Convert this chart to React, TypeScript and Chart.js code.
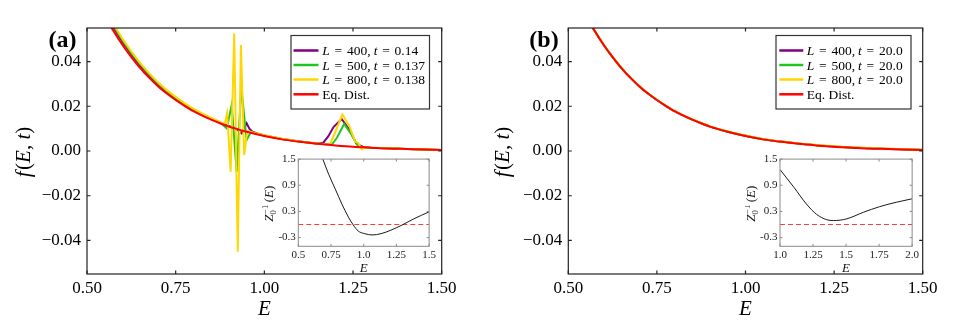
import React, { useEffect, useRef } from 'react';
import { Chart, registerables } from 'chart.js';

Chart.register(...registerables);

const SERIF = '"Liberation Serif", "Times New Roman", serif';

// ---------- Panel (a) data ----------
const eqE = [0.55, 0.575, 0.6, 0.625, 0.65, 0.675, 0.7, 0.725, 0.75, 0.775, 0.8, 0.825, 0.85, 0.875, 0.9, 0.95, 1.0, 1.05, 1.1, 1.15, 1.2, 1.25, 1.3, 1.35, 1.4, 1.45, 1.5];
const eqF = [0.0605, 0.0535, 0.0474, 0.042, 0.0371, 0.0328, 0.029, 0.0257, 0.0228, 0.0202, 0.0178, 0.0158, 0.014, 0.0124, 0.0109, 0.0086, 0.0067, 0.0052, 0.0041, 0.0032, 0.0025, 0.0019, 0.0015, 0.0011, 0.0009, 0.0007, 0.0005];

const aPurpleE = [0.55, 0.575, 0.6, 0.625, 0.65, 0.675, 0.7, 0.725, 0.75, 0.775, 0.8, 0.825, 0.85, 0.875, 0.9, 0.92, 0.936, 0.95, 0.958, 0.966, 0.98, 1.0, 1.05, 1.1, 1.15, 1.166, 1.18, 1.195, 1.218, 1.24, 1.26, 1.28, 1.3, 1.35, 1.4, 1.45, 1.5];
const aPurpleF = [0.0623, 0.0551, 0.0488, 0.0433, 0.0382, 0.0338, 0.0299, 0.0265, 0.0235, 0.0208, 0.0183, 0.0163, 0.0144, 0.0127, 0.0112, 0.0101, 0.0079, 0.0124, 0.01, 0.0086, 0.0078, 0.0069, 0.0054, 0.0042, 0.0033, 0.0037, 0.0065, 0.0107, 0.0143, 0.0095, 0.0032, 0.0017, 0.0015, 0.0012, 0.0009, 0.0007, 0.0005];

const aGreenE = [0.55, 0.575, 0.6, 0.625, 0.65, 0.675, 0.7, 0.725, 0.75, 0.775, 0.8, 0.825, 0.85, 0.875, 0.894, 0.908, 0.922, 0.935, 0.95, 0.962, 0.975, 1.0, 1.05, 1.1, 1.15, 1.19, 1.205, 1.225, 1.245, 1.265, 1.28, 1.3, 1.35, 1.4, 1.45, 1.5];
const aGreenF = [0.0632, 0.0559, 0.0495, 0.0439, 0.0388, 0.0343, 0.0303, 0.0268, 0.0238, 0.0211, 0.0186, 0.0165, 0.0146, 0.0129, 0.0101, 0.0206, -0.0093, 0.0285, 0.0049, 0.0085, 0.0078, 0.0069, 0.0054, 0.0042, 0.0033, 0.0028, 0.006, 0.0121, 0.0075, 0.002, 0.0016, 0.0015, 0.0012, 0.0009, 0.0007, 0.0005];

const aYellowE = [0.55, 0.575, 0.6, 0.625, 0.65, 0.675, 0.7, 0.725, 0.75, 0.775, 0.8, 0.825, 0.85, 0.875, 0.888, 0.895, 0.905, 0.915, 0.925, 0.934, 0.943, 0.952, 0.975, 1.0, 1.05, 1.1, 1.15, 1.185, 1.2, 1.22, 1.24, 1.256, 1.265, 1.274, 1.285, 1.3, 1.35, 1.4, 1.45, 1.5];
const aYellowF = [0.0641, 0.0567, 0.0502, 0.0445, 0.0393, 0.0348, 0.0307, 0.0272, 0.0242, 0.0214, 0.0189, 0.0167, 0.0148, 0.013, 0.0119, 0.0168, -0.0093, 0.0526, -0.045, 0.0474, -0.0018, 0.009, 0.0079, 0.007, 0.0055, 0.0043, 0.0034, 0.0029, 0.0085, 0.0163, 0.011, 0.0042, 0.0036, 0.0008, 0.0016, 0.0015, 0.0012, 0.0009, 0.0007, 0.0005];

// ---------- Panel (b) data ----------
const bE = [0.55, 0.575, 0.6, 0.625, 0.65, 0.675, 0.7, 0.725, 0.75, 0.775, 0.8, 0.825, 0.85, 0.875, 0.9, 0.95, 1.0, 1.05, 1.1, 1.15, 1.2, 1.25, 1.3, 1.35, 1.4, 1.45, 1.5];
const bPurpleF = [0.0605, 0.0535, 0.0474, 0.042, 0.0371, 0.0328, 0.029, 0.0257, 0.0228, 0.0202, 0.0178, 0.0158, 0.014, 0.0124, 0.0109, 0.0086, 0.0068, 0.0053, 0.0042, 0.0033, 0.0026, 0.002, 0.0016, 0.0012, 0.0009, 0.0007, 0.0005];
const bGreenF = [0.0605, 0.0535, 0.0474, 0.042, 0.0371, 0.0328, 0.029, 0.0257, 0.0228, 0.0202, 0.0178, 0.0158, 0.014, 0.0124, 0.0109, 0.0086, 0.0068, 0.0053, 0.0042, 0.0033, 0.0026, 0.002, 0.0016, 0.0012, 0.001, 0.0008, 0.0006];
const bYellowF = [0.0606, 0.0536, 0.0475, 0.0421, 0.0372, 0.0329, 0.0291, 0.0258, 0.0229, 0.0203, 0.0179, 0.0159, 0.0141, 0.0125, 0.011, 0.0087, 0.0069, 0.0054, 0.0043, 0.0034, 0.0027, 0.0021, 0.0017, 0.0013, 0.001, 0.0008, 0.0006];
const bRedF = [0.0605, 0.0535, 0.0474, 0.042, 0.0371, 0.0328, 0.029, 0.0257, 0.0228, 0.0202, 0.0178, 0.0158, 0.014, 0.0124, 0.0109, 0.0086, 0.0067, 0.0052, 0.0041, 0.0032, 0.0025, 0.0019, 0.0015, 0.0011, 0.0009, 0.0007, 0.0005];

// ---------- Inset data ----------
const insetAE = [0.67, 0.6875, 0.7325, 0.783, 0.833, 0.883, 0.92, 0.958, 1.008, 1.063, 1.133, 1.208, 1.295, 1.383, 1.5];
const insetAZ = [1.65, 1.5, 1.15, 0.81, 0.47, 0.17, -0.01, -0.15, -0.21, -0.24, -0.21, -0.13, -0.01, 0.13, 0.29];
const insetBE = [1.0, 1.106, 1.2, 1.278, 1.354, 1.404, 1.505, 1.631, 1.755, 1.88, 2.0];
const insetBZ = [1.26, 0.85, 0.47, 0.23, 0.11, 0.09, 0.13, 0.28, 0.41, 0.51, 0.59];
const eqLineZ = 0;

// ---------- Ticks / labels ----------
const mainXTicks = [0.5, 0.75, 1.0, 1.25, 1.5];
const mainYTicks = [-0.04, -0.02, 0, 0.02, 0.04];
const insetAXTicks = [0.5, 0.75, 1.0, 1.25, 1.5];
const insetAXLabels = ['0.5', '0.75', '1.0', '1.25', '1.5'];
const insetBXTicks = [1.0, 1.25, 1.5, 1.75, 2.0];
const insetBXLabels = ['1.0', '1.25', '1.5', '1.75', '2.0'];
const insetYTicks = [-0.3, 0.3, 0.9, 1.5];
const insetYLabels = ['-0.3', '0.3', '0.9', '1.5'];

const legendL = [400, 500, 800];
const legendTA = ['0.14', '0.137', '0.138'];
const legendTB = ['20.0', '20.0', '20.0'];
const eqLabel = 'Eq. Dist.';

const PURPLE = '#800080';
const GREEN = '#22c422';
const YELLOW = '#ffd700';
const RED = '#ff0000';
const seriesColors = [PURPLE, GREEN, YELLOW, RED];

// ---------- rich text helpers ----------
type Part = { t?: string; it?: boolean; bold?: boolean; size?: number; dy?: number; gap?: number; noAdv?: boolean };

function fontOf(p: Part, base: number) {
  return `${p.it ? 'italic ' : ''}${p.bold ? 'bold ' : ''}${p.size ?? base}px ${SERIF}`;
}
function richWidth(ctx: CanvasRenderingContext2D, parts: Part[], base: number) {
  let w = 0;
  for (const p of parts) {
    if (p.gap) { w += p.gap; continue; }
    ctx.font = fontOf(p, base);
    if (!p.noAdv) w += ctx.measureText(p.t || '').width;
  }
  return w;
}
function drawRich(ctx: CanvasRenderingContext2D, parts: Part[], x: number, y: number, base: number, align: 'left' | 'center' = 'left', color = '#000') {
  const w = richWidth(ctx, parts, base);
  let cx = align === 'center' ? x - w / 2 : x;
  ctx.fillStyle = color;
  ctx.textBaseline = 'alphabetic';
  ctx.textAlign = 'left';
  for (const p of parts) {
    if (p.gap) { cx += p.gap; continue; }
    ctx.font = fontOf(p, base);
    ctx.fillText(p.t || '', cx, y + (p.dy ?? 0));
    if (!p.noAdv) cx += ctx.measureText(p.t || '').width;
  }
}
function legendParts(L: number, t: string): Part[] {
  const G = 4.8;
  return [{ t: 'L', it: true }, { gap: G }, { t: '=' }, { gap: G }, { t: `${L},` }, { gap: 3 }, { t: 't', it: true }, { gap: G }, { t: '=' }, { gap: G }, { t }];
}

const pts = (xs: number[], ys: number[]) => xs.map((x, i) => ({ x, y: ys[i] }));

function fixTicks(values: number[]) {
  return (axis: any) => { axis.ticks = values.map((v) => ({ value: v })); };
}

// ---------- main panel config ----------
type MainGeo = {
  yAxisW: number; padRight: number; panel: string; panelX: number; yTitleX: number;
  legBox: [number, number, number, number]; legLine: [number, number]; legTextX: number; tLabels: string[];
};

function mainConfig(datasets: any[], g: MainGeo): any {
  const deco = {
    id: 'mainDeco',
    afterDraw(chart: any) {
      const ctx: CanvasRenderingContext2D = chart.ctx;
      const { left, right, top, bottom } = chart.chartArea;
      const xs = chart.scales.x, ys = chart.scales.y;
      ctx.save();
      ctx.strokeStyle = '#222';
      ctx.lineWidth = 1.2;
      ctx.strokeRect(left, top, right - left, bottom - top);
      ctx.beginPath();
      const tl = 3.5;
      for (const v of mainXTicks) {
        const px = xs.getPixelForValue(v);
        ctx.moveTo(px, bottom); ctx.lineTo(px, bottom - tl);
        ctx.moveTo(px, top); ctx.lineTo(px, top + tl);
      }
      for (const v of mainYTicks) {
        const py = ys.getPixelForValue(v);
        ctx.moveTo(left, py); ctx.lineTo(left + tl, py);
        ctx.moveTo(right, py); ctx.lineTo(right - tl, py);
      }
      ctx.stroke();
      // axis titles
      drawRich(ctx, [{ t: 'E', it: true }], (left + right) / 2, 315, 21, 'center');
      ctx.save();
      ctx.translate(g.yTitleX, (top + bottom) / 2 + 1);
      ctx.rotate(-Math.PI / 2);
      drawRich(ctx, [{ t: 'f', it: true }, { gap: 1.5 }, { t: '(' }, { t: 'E', it: true }, { t: ', ' }, { t: 't', it: true }, { t: ')' }], 0, 0, 21, 'center');
      ctx.restore();
      // panel label
      drawRich(ctx, [{ t: g.panel, bold: true }], g.panelX, 47, 24, 'center');
      // legend
      const [bx0, by0, bx1, by1] = g.legBox;
      ctx.fillStyle = '#fff';
      ctx.fillRect(bx0, by0, bx1 - bx0, by1 - by0);
      ctx.strokeStyle = '#333';
      ctx.lineWidth = 1.2;
      ctx.strokeRect(bx0, by0, bx1 - bx0, by1 - by0);
      const rows = [50.5, 65, 79.5, 94.3];
      for (let i = 0; i < 4; i++) {
        ctx.strokeStyle = seriesColors[i];
        ctx.lineWidth = 2.5;
        ctx.beginPath();
        ctx.moveTo(g.legLine[0], rows[i]);
        ctx.lineTo(g.legLine[1], rows[i]);
        ctx.stroke();
        const parts = i < 3 ? legendParts(legendL[i], g.tLabels[i]) : [{ t: eqLabel }];
        drawRich(ctx, parts, g.legTextX, rows[i] + 4.5, 13.5, 'left');
      }
      ctx.restore();
    },
  };
  return {
    type: 'line',
    data: { datasets },
    options: {
      animation: false,
      responsive: false,
      maintainAspectRatio: false,
      events: [],
      layout: { padding: { left: 0, top: 28, right: g.padRight, bottom: 0 } },
      plugins: { legend: { display: false }, tooltip: { enabled: false } },
      elements: { point: { radius: 0 }, line: { borderWidth: 2, tension: 0 } },
      scales: {
        x: {
          type: 'linear', min: 0.5, max: 1.5,
          grid: { display: false, drawTicks: false }, border: { display: false },
          afterBuildTicks: fixTicks(mainXTicks),
          afterFit: (s: any) => { s.height = 59; },
          ticks: { font: { family: SERIF, size: 17 }, color: '#000', padding: 4, maxRotation: 0, autoSkip: false, callback: (v: any) => Number(v).toFixed(2) },
        },
        y: {
          type: 'linear', min: -0.055, max: 0.055,
          grid: { display: false, drawTicks: false }, border: { display: false },
          afterBuildTicks: fixTicks(mainYTicks),
          afterFit: (s: any) => { s.width = g.yAxisW; },
          ticks: {
            font: { family: SERIF, size: 17 }, color: '#000', padding: 6, autoSkip: false,
            callback: (v: any) => { const n = Number(v); return (n < -1e-9 ? '\u2212' : '') + Math.abs(n).toFixed(2); },
          },
        },
      },
    },
    plugins: [deco],
  };
}

// ---------- inset config ----------
function insetConfig(E: number[], Z: number[], xmin: number, xmax: number, xTicks: number[], xLabels: string[], yAxisW: number, padRight: number): any {
  const deco = {
    id: 'insetDeco',
    beforeDatasetsDraw(chart: any) {
      const ctx: CanvasRenderingContext2D = chart.ctx;
      const { left, right, top, bottom } = chart.chartArea;
      ctx.save();
      ctx.fillStyle = '#fff';
      ctx.fillRect(left, top, right - left, bottom - top);
      ctx.restore();
    },
    afterDraw(chart: any) {
      const ctx: CanvasRenderingContext2D = chart.ctx;
      const { left, right, top, bottom } = chart.chartArea;
      const xs = chart.scales.x, ys = chart.scales.y;
      ctx.save();
      ctx.strokeStyle = '#8a8a8a';
      ctx.lineWidth = 1;
      ctx.strokeRect(left, top, right - left, bottom - top);
      ctx.beginPath();
      const tl = 2.5;
      for (const v of xTicks) {
        const px = xs.getPixelForValue(v);
        ctx.moveTo(px, bottom); ctx.lineTo(px, bottom - tl);
        ctx.moveTo(px, top); ctx.lineTo(px, top + tl);
      }
      for (const v of insetYTicks) {
        const py = ys.getPixelForValue(v);
        ctx.moveTo(left, py); ctx.lineTo(left + tl, py);
        ctx.moveTo(right, py); ctx.lineTo(right - tl, py);
      }
      ctx.stroke();
      drawRich(ctx, [{ t: 'E', it: true }], (left + right) / 2, 121.7, 13, 'center', '#111');
      ctx.save();
      ctx.translate(left - 25.5, (top + bottom) / 2 + 1);
      ctx.rotate(-Math.PI / 2);
      drawRich(ctx, [{ t: 'Z', it: true }, { t: '0', size: 8.5, dy: 3, noAdv: true }, { gap: 0.5 }, { t: '\u22121', size: 8.5, dy: -5 }, { gap: 2.5 }, { t: '(' }, { t: 'E', it: true }, { t: ')' }], 0, 0, 13, 'center', '#111');
      ctx.restore();
      ctx.restore();
    },
  };
  return {
    type: 'line',
    data: {
      datasets: [
        { data: pts(E, Z), borderColor: '#1a1a1a', borderWidth: 1, cubicInterpolationMode: 'monotone', pointRadius: 0 },
        { data: pts([xmin, xmax], [eqLineZ, eqLineZ]), borderColor: '#ff3b3b', borderWidth: 1, borderDash: [5, 3], pointRadius: 0 },
      ],
    },
    options: {
      animation: false,
      responsive: false,
      maintainAspectRatio: false,
      events: [],
      layout: { padding: { left: 0, top: 7.2, right: padRight, bottom: 0 } },
      plugins: { legend: { display: false }, tooltip: { enabled: false } },
      scales: {
        x: {
          type: 'linear', min: xmin, max: xmax,
          grid: { display: false, drawTicks: false }, border: { display: false },
          afterBuildTicks: fixTicks(xTicks),
          afterFit: (s: any) => { s.height = 28.7; },
          ticks: {
            font: { family: SERIF, size: 11 }, color: '#222', padding: 2, maxRotation: 0, autoSkip: false,
            callback: (v: any) => { const i = xTicks.findIndex((t) => Math.abs(t - Number(v)) < 1e-9); return i >= 0 ? xLabels[i] : ''; },
          },
        },
        y: {
          type: 'linear', min: -0.5, max: 1.5,
          grid: { display: false, drawTicks: false }, border: { display: false },
          afterBuildTicks: fixTicks(insetYTicks),
          afterFit: (s: any) => { s.width = yAxisW; },
          ticks: {
            font: { family: SERIF, size: 11 }, color: '#222', padding: 2.5, autoSkip: false,
            callback: (v: any) => { const i = insetYTicks.findIndex((t) => Math.abs(t - Number(v)) < 1e-9); return i >= 0 ? insetYLabels[i] : ''; },
          },
        },
      },
    },
    plugins: [deco],
  };
}

function ChartBox(props: { left: number; top: number; width: number; height: number; build: () => any }) {
  const ref = useRef<HTMLCanvasElement>(null);
  useEffect(() => {
    const chart = new Chart(ref.current as HTMLCanvasElement, props.build());
    return () => chart.destroy();
  }, []);
  return (
    <canvas
      ref={ref}
      width={props.width}
      height={props.height}
      style={{ position: 'absolute', left: props.left, top: props.top, width: props.width, height: props.height }}
    />
  );
}

function line(data: any[], color: string, extra: any = {}) {
  return { data, borderColor: color, backgroundColor: color, borderWidth: 2, pointRadius: 0, fill: false, ...extra };
}

export default function App() {
  const buildA = () =>
    mainConfig(
      [
        line(pts(eqE, eqF), RED, { cubicInterpolationMode: 'monotone' }),
        line(pts(aYellowE, aYellowF), YELLOW),
        line(pts(aGreenE, aGreenF), GREEN),
        line(pts(aPurpleE, aPurpleF), PURPLE),
      ],
      { yAxisW: 87, padRight: 28.3, panel: '(a)', panelX: 62.5, yTitleX: 30, legBox: [291, 35.5, 429.5, 109], legLine: [293.5, 318.5], legTextX: 322.3, tLabels: legendTA }
    );
  const buildB = () =>
    mainConfig(
      [
        line(pts(bE, bRedF), RED, { cubicInterpolationMode: 'monotone' }),
        line(pts(bE, bYellowF), YELLOW, { cubicInterpolationMode: 'monotone' }),
        line(pts(bE, bGreenF), GREEN, { cubicInterpolationMode: 'monotone' }),
        line(pts(bE, bPurpleF), PURPLE, { cubicInterpolationMode: 'monotone' }),
      ],
      { yAxisW: 98.3, padRight: 30.3, panel: '(b)', panelX: 74, yTitleX: 39, legBox: [306, 35.5, 441, 109], legLine: [309.3, 333.3], legTextX: 336.7, tLabels: legendTB }
    );
  const buildIA = () => insetConfig(insetAE, insetAZ, 0.5, 1.5, insetAXTicks, insetAXLabels, 36.3, 7.7);
  const buildIB = () => insetConfig(insetBE, insetBZ, 1.0, 2.0, insetBXTicks, insetBXLabels, 35, 8.7);

  return (
    <div style={{ position: 'absolute', left: 0, top: 0, width: 953, height: 333, background: '#fff', overflow: 'hidden' }}>
      <ChartBox left={0} top={0} width={470} height={333} build={buildA} />
      <ChartBox left={470} top={0} width={483} height={333} build={buildB} />
      <ChartBox left={262} top={150} width={176} height={125} build={buildIA} />
      <ChartBox left={745} top={150} width={176} height={125} build={buildIB} />
    </div>
  );
}
